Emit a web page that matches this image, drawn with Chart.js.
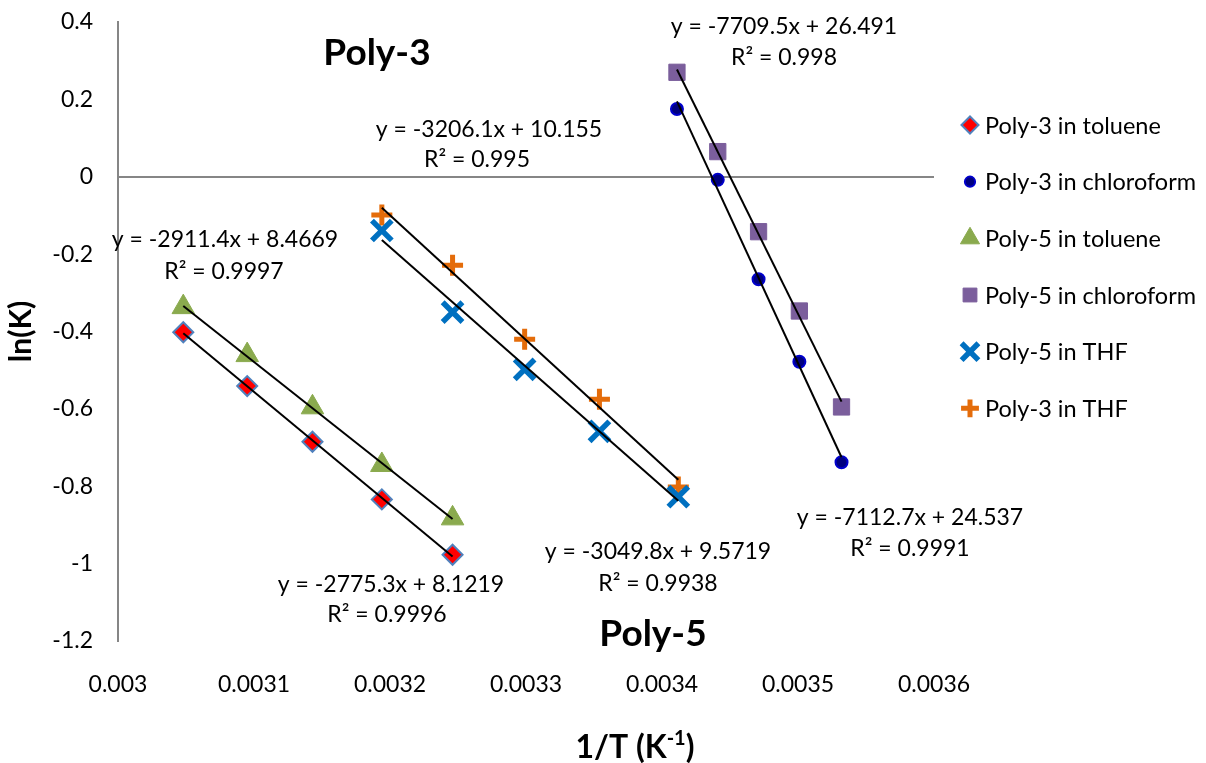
<!DOCTYPE html>
<html>
<head>
<meta charset="utf-8">
<title>Poly-3 / Poly-5 ln(K) vs 1/T</title>
<script src="https://cdn.jsdelivr.net/npm/chart.js@4.4.1/dist/chart.umd.min.js"></script>
<style>
  html, body { margin: 0; padding: 0; background: #fff; }
  #chart { display: block; }
</style>
</head>
<body>
<canvas id="chart" width="1206" height="763"></canvas>
<script>
  // 1/T values (K^-1) for each solvent set
  const xToluene = [0.003048, 0.003095, 0.003143, 0.003194, 0.003246];
  const xTHF = [0.003194, 0.003246, 0.003299, 0.003354, 0.003412];
  const xChloroform = [0.003411, 0.003441, 0.003471, 0.003501, 0.003532];

  // ln(K) values
  const poly3Toluene = [-0.402, -0.541, -0.685, -0.834, -0.977];
  const poly3Chloroform = [0.175, -0.008, -0.265, -0.478, -0.738];
  const poly5Toluene = [-0.337, -0.461, -0.596, -0.745, -0.883];
  const poly5Chloroform = [0.270, 0.065, -0.142, -0.347, -0.595];
  const poly5THF = [-0.139, -0.350, -0.498, -0.658, -0.827];
  const poly3THF = [-0.099, -0.229, -0.420, -0.575, -0.802];

  const seriesNames = ['Poly-3 in toluene', 'Poly-3 in chloroform', 'Poly-5 in toluene',
    'Poly-5 in chloroform', 'Poly-5 in THF', 'Poly-3 in THF'];

  // trendline labels as printed on the chart
  const trendLabels = [
    ['y = -7709.5x + 26.491', 'R\u00b2 = 0.998'],
    ['y = -3206.1x + 10.155', 'R\u00b2 = 0.995'],
    ['y = -2911.4x + 8.4669', 'R\u00b2 = 0.9997'],
    ['y = -7112.7x + 24.537', 'R\u00b2 = 0.9991'],
    ['y = -3049.8x + 9.5719', 'R\u00b2 = 0.9938'],
    ['y = -2775.3x + 8.1219', 'R\u00b2 = 0.9996']
  ];

  const FONT = 'Lato, "Open Sans", sans-serif';

  const series = [
    { name: seriesNames[0], xs: xToluene, ys: poly3Toluene,
      style: { pointStyle: 'rectRot', radius: 10, bg: '#FF0000', border: '#4F81BD', bw: 2 } },
    { name: seriesNames[1], xs: xChloroform, ys: poly3Chloroform,
      style: { pointStyle: 'circle', radius: 6, bg: '#000080', border: '#0000CC', bw: 2 } },
    { name: seriesNames[2], xs: xToluene, ys: poly5Toluene,
      style: { pointStyle: 'triangle', radius: 13, bg: '#8AAA4E', border: '#8AAA4E', bw: 1 } },
    { name: seriesNames[3], xs: xChloroform, ys: poly5Chloroform,
      style: { pointStyle: 'rect', radius: 11.5, bg: '#7B5E9C', border: '#7B5E9C', bw: 1 } },
    { name: seriesNames[4], xs: xTHF, ys: poly5THF,
      style: { pointStyle: 'crossRot', radius: 14, bg: '#0070C0', border: '#0070C0', bw: 5.5 } },
    { name: seriesNames[5], xs: xTHF, ys: poly3THF,
      style: { pointStyle: 'cross', radius: 10.5, bg: '#E46C0A', border: '#E46C0A', bw: 5 } }
  ];

  // least squares line over the series range
  function fitLine(xs, ys) {
    const n = xs.length;
    const mx = xs.reduce((a, b) => a + b, 0) / n;
    const my = ys.reduce((a, b) => a + b, 0) / n;
    let sxy = 0, sxx = 0;
    for (let i = 0; i < n; i++) {
      sxy += (xs[i] - mx) * (ys[i] - my);
      sxx += (xs[i] - mx) * (xs[i] - mx);
    }
    const m = sxy / sxx, b = my - m * mx;
    const x0 = Math.min(...xs), x1 = Math.max(...xs);
    return [{ x: x0, y: m * x0 + b }, { x: x1, y: m * x1 + b }];
  }

  const datasets = [];
  series.forEach(s => {
    datasets.push({
      type: 'line',
      label: s.name + ' trend',
      data: fitLine(s.xs, s.ys),
      borderColor: '#000',
      borderWidth: 2,
      pointRadius: 0,
      fill: false,
      order: 0
    });
  });
  series.forEach(s => {
    datasets.push({
      type: 'scatter',
      label: s.name,
      data: s.xs.map((x, i) => ({ x: x, y: s.ys[i] })),
      pointStyle: s.style.pointStyle,
      pointRadius: s.style.radius,
      pointBackgroundColor: s.style.bg,
      pointBorderColor: s.style.border,
      pointBorderWidth: s.style.bw,
      showLine: false,
      order: 1
    });
  });

  // free text on the chart: equations, panel titles, x-axis title, legend
  const textPlugin = {
    id: 'chartTexts',
    afterDraw(chart) {
      const ctx = chart.ctx;
      ctx.save();
      ctx.fillStyle = '#000';
      ctx.textAlign = 'center';
      ctx.textBaseline = 'middle';

      const eqPos = [[784, 27, 784, 58], [489, 130, 477, 160], [225, 240, 224, 272],
                     [910, 518, 910, 549], [658, 552, 658, 584], [391, 585, 387, 615]];
      ctx.font = '23px ' + FONT;
      trendLabels.forEach((t, i) => {
        const p = eqPos[i];
        ctx.fillText(t[0], p[0], p[1]);
        ctx.fillText(t[1], p[2], p[3]);
      });

      ctx.font = 'bold 37px ' + FONT;
      ctx.fillText('Poly-3', 377, 53);
      ctx.fillText('Poly-5', 653, 634);

      // x-axis title with superscript
      ctx.textAlign = 'left';
      ctx.textBaseline = 'alphabetic';
      const big = 'bold 32px ' + FONT, small = 'bold 20px ' + FONT;
      ctx.font = big;
      const a = '1/T (K', c = ')';
      const wa = ctx.measureText(a).width, wc = ctx.measureText(c).width;
      ctx.font = small;
      const wb = ctx.measureText('-1').width;
      let x = 635 - (wa + wb + wc) / 2;
      const base = 758;
      ctx.font = big; ctx.fillText(a, x, base); x += wa;
      ctx.font = small; ctx.fillText('-1', x, base - 13); x += wb;
      ctx.font = big; ctx.fillText(c, x, base);

      // legend
      const rows = [125, 181.7, 238.3, 295, 351.7, 408.3];
      ctx.textBaseline = 'middle';
      series.forEach((s, i) => {
        ctx.fillStyle = s.style.bg;
        ctx.strokeStyle = s.style.border;
        ctx.lineWidth = s.style.bw;
        Chart.helpers.drawPoint(ctx, {
          pointStyle: s.style.pointStyle,
          radius: s.style.radius * 0.85,
          rotation: 0,
          borderWidth: s.style.bw
        }, 970, rows[i]);
        ctx.fillStyle = '#000';
        ctx.font = '23.5px ' + FONT;
        ctx.fillText(s.name, 985, rows[i] + 1);
      });
      ctx.restore();
    }
  };

  const chart = new Chart(document.getElementById('chart'), {
    data: { datasets: datasets },
    options: {
      responsive: false,
      animation: false,
      devicePixelRatio: 1,
      layout: { padding: { top: 22, right: 272, left: 0, bottom: 0 } },
      plugins: {
        legend: { display: false },
        tooltip: { enabled: false }
      },
      scales: {
        x: {
          type: 'linear',
          min: 0.003,
          max: 0.0036,
          grid: { display: false },
          border: { display: false },
          ticks: {
            stepSize: 0.0001,
            color: '#000',
            font: { family: FONT, size: 23 },
            padding: 22,
            maxRotation: 0,
            callback: v => String(+v.toFixed(4))
          },
          afterFit: s => { s.height = 122; }
        },
        y: {
          type: 'linear',
          min: -1.2,
          max: 0.4,
          grid: {
            drawTicks: false,
            lineWidth: 2,
            color: c => (c.tick && Math.abs(c.tick.value) < 1e-9) ? '#868686' : 'rgba(0,0,0,0)'
          },
          border: { display: true, color: '#868686', width: 2 },
          ticks: {
            stepSize: 0.2,
            color: '#000',
            font: { family: FONT, size: 23 },
            padding: 25,
            callback: v => String(Math.round(v * 10) / 10)
          },
          title: {
            display: true,
            text: 'ln(K)',
            color: '#000',
            font: { family: FONT, size: 30, weight: 'bold' },
            padding: { top: 3, bottom: 0 }
          },
          afterFit: s => { s.width = 118; s.paddingTop = 0; s.paddingBottom = 0; }
        }
      }
    },
    plugins: [textPlugin]
  });
</script>
</body>
</html>
